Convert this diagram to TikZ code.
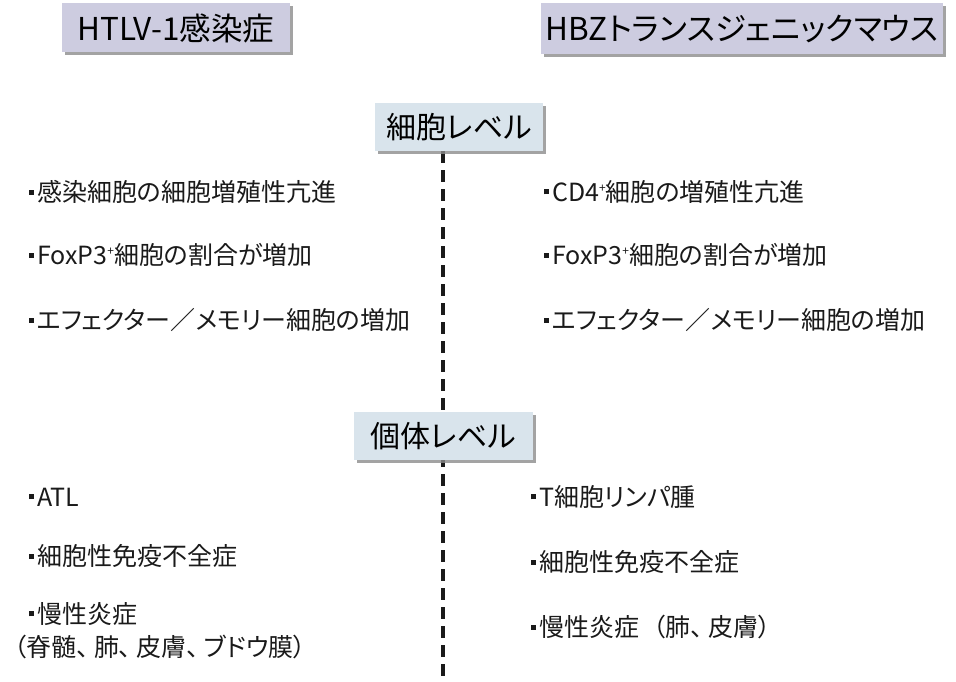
\documentclass[tikz,border=0pt]{standalone}
\usepackage{fontspec}
\setmainfont{Noto Sans CJK JP}[RawFeature=+palt]
\usetikzlibrary{shadows,backgrounds}
\newcommand\sqb{\hspace{1pt}\rule[7pt]{5pt}{5pt}\hspace{3pt}}
\newcommand\supp{\raisebox{9pt}{\fontsize{12pt}{12pt}\selectfont +}}
\newcommand\cm{、\hspace{5pt}}
\tikzset{
  hdrbox/.style={fill=hdrfill, inner sep=0pt, font=\fontsize{31.5pt}{34pt}\selectfont,
    drop shadow={shadow xshift=3pt, shadow yshift=-3pt, fill=black!45, opacity=0.8}},
  lvlbox/.style={fill=lvlfill, inner sep=0pt, font=\fontsize{30pt}{32pt}\selectfont,
    drop shadow={shadow xshift=3pt, shadow yshift=-3pt, fill=black!45, opacity=0.8}},
  item/.style={anchor=west, inner sep=0pt, font=\fontsize{25pt}{33pt}\selectfont, align=left, text=txt},
  divider/.style={line width=4pt, dash pattern=on 12pt off 7pt, draw=txt}
}
\definecolor{hdrfill}{HTML}{CDCCE0}
\definecolor{lvlfill}{HTML}{D9E4EC}
\definecolor{txt}{HTML}{1A1A1A}
\begin{document}
\begin{tikzpicture}[x=1pt,y=-1pt]
\useasboundingbox (0,0) rectangle (956,682);
\node[hdrbox, minimum width=228pt, minimum height=49pt] (htlv) at (176,28) {HTLV-1感染症};
\node[hdrbox, minimum width=402pt, minimum height=51pt] (hbz) at (742,29) {HBZトランスジェニックマウス};
\node[lvlbox, minimum width=168pt, minimum height=48pt] (cell) at (459,127) {細胞レベル};
\node[lvlbox, minimum width=179pt, minimum height=48pt] (indiv) at (443,436) {個体レベル};
\coordinate (bot) at (443,682);
\begin{pgfonlayer}{background}
\draw[divider] (cell.south -| bot) -- (bot);
\end{pgfonlayer}
% cell level, left
\node[item] (l1) at (28,192) {\sqb 感染細胞の細胞増殖性亢進};
\node[item] (l2) at (28,255) {\sqb FoxP3\supp 細胞の割合が増加};
\node[item] (l3) at (28,320) {\sqb エフェクター／メモリー細胞の増加};
% cell level, right
\node[item] (r1) at (543,192) {\sqb CD4\supp 細胞の増殖性亢進};
\node[item] (r2) at (543,255) {\sqb FoxP3\supp 細胞の割合が増加};
\node[item] (r3) at (543,320) {\sqb エフェクター／メモリー細胞の増加};
% individual level, left
\node[item] (l4) at (28,497) {\sqb ATL};
\node[item] (l5) at (28,556) {\sqb 細胞性免疫不全症};
\node[item] (l6) at (28,614) {\sqb 慢性炎症};
\node[item] (l7) at (14,647) {（脊髄\cm 肺\cm 皮膚\cm ブドウ膜）};
% individual level, right
\node[item] (r4) at (530,497) {\sqb T細胞リンパ腫};
\node[item] (r5) at (530,562) {\sqb 細胞性免疫不全症};
\node[item] (r6) at (530,627) {\sqb 慢性炎症\hspace{14pt}（肺\cm 皮膚）};
\end{tikzpicture}
\end{document}
